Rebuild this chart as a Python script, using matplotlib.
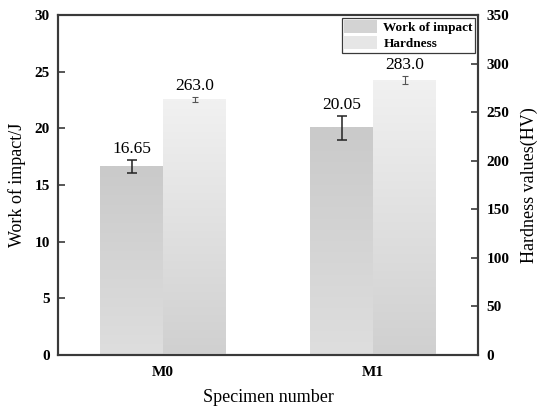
import numpy as np
import matplotlib

matplotlib.use("Agg")

import matplotlib.pyplot as plt
from matplotlib.patches import Patch

plt.rcParams["font.family"] = ["Liberation Serif", "DejaVu Serif"]

specimens = ["M0", "M1"]
work_of_impact = [16.65, 20.05]
work_err = [0.6, 1.05]
hardness = [263.0, 283.0]
hardness_err = [2.7, 4.5]

work_ticks = [0, 5, 10, 15, 20, 25, 30]
hardness_ticks = [0, 50, 100, 150, 200, 250, 300, 350]

BAR_WIDTH = 0.3
SPINE_COLOR = "#3a3a3a"


def gradient_bar(ax, x0, width, height, top_color, bottom_color):
    top = np.array(matplotlib.colors.to_rgb(top_color))
    bottom = np.array(matplotlib.colors.to_rgb(bottom_color))
    t = np.linspace(0.0, 1.0, 64)[:, None]
    img = (top * (1 - t) + bottom * t)[:, None, :]
    ax.imshow(img, extent=(x0, x0 + width, 0, height), aspect="auto",
              interpolation="bilinear", origin="upper", zorder=2)


fig = plt.figure(figsize=(5.37, 4.07), dpi=100)
ax = fig.add_axes([58 / 537, 1 - 355 / 407, 420 / 537, 340 / 407])
ax2 = ax.twinx()

x = np.arange(len(specimens))

for xi, val, err in zip(x, work_of_impact, work_err):
    gradient_bar(ax, xi - BAR_WIDTH, BAR_WIDTH, val, "#cacaca", "#dedede")
    ax.errorbar(xi - BAR_WIDTH / 2, val, yerr=err, fmt="none", ecolor="#222222",
                elinewidth=1.1, capsize=3.5, capthick=1.1, zorder=3)
    ax.annotate(f"{val:.2f}", (xi - BAR_WIDTH / 2, val + err), xytext=(0, 2),
                textcoords="offset points", ha="center", va="bottom", fontsize=12.5)

for xi, val, err in zip(x, hardness, hardness_err):
    gradient_bar(ax2, xi, BAR_WIDTH, val, "#f1f1f1", "#d0d0d0")
    ax2.errorbar(xi + BAR_WIDTH / 2, val, yerr=err, fmt="none", ecolor="#555555",
                 elinewidth=0.8, capsize=2.5, capthick=0.8, zorder=3)
    ax2.annotate(f"{val:.1f}", (xi + BAR_WIDTH / 2, val + err), xytext=(0, 2),
                 textcoords="offset points", ha="center", va="bottom", fontsize=12.5)

ax.set_xlim(-0.5, 1.5)
ax.set_ylim(0, 30)
ax2.set_ylim(0, 350)
ax.set_xticks(x)
ax.set_xticklabels(specimens, fontweight="bold", fontsize=11)
ax.set_yticks(work_ticks)
ax2.set_yticks(hardness_ticks)
for lbl in ax.get_yticklabels() + ax2.get_yticklabels():
    lbl.set_fontweight("bold")
    lbl.set_fontsize(11)

ax.tick_params(axis="both", direction="in", length=5, width=1.2, color=SPINE_COLOR, pad=6)
ax.tick_params(axis="x", pad=8)
ax2.tick_params(axis="y", direction="in", length=5, width=1.2, color=SPINE_COLOR, pad=6)

for a in (ax, ax2):
    for sp in a.spines.values():
        sp.set_color(SPINE_COLOR)
        sp.set_linewidth(1.5)

ax.set_xlabel("Specimen number", fontsize=13, labelpad=7)
ax.set_ylabel("Work of impact/J", fontsize=13, labelpad=6)
ax2.set_ylabel("Hardness values(HV)", fontsize=13, labelpad=8)

handles = [Patch(facecolor="#d3d3d3", edgecolor="none", label="Work of impact"),
           Patch(facecolor="#e6e6e6", edgecolor="none", label="Hardness")]
leg = ax2.legend(handles=handles, loc="upper right", fancybox=False, framealpha=1,
                 edgecolor=SPINE_COLOR, prop={"weight": "bold", "size": 9.5},
                 handlelength=2.5, handleheight=1.1, borderaxespad=0.2,
                 borderpad=0.2, labelspacing=0.15, handletextpad=0.45)
leg.get_frame().set_linewidth(0.9)

fig.savefig("out.png", dpi=100)
